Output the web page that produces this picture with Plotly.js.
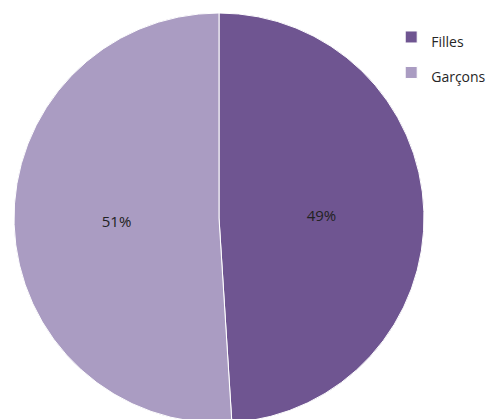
<!DOCTYPE html>
<html>
<head>
<meta charset="utf-8">
<script src="https://cdn.plot.ly/plotly-3.0.1.min.js"></script>
<style>
html, body { margin: 0; padding: 0; overflow: hidden; background: #ffffff; }
#chart { width: 504px; height: 423px; }
</style>
</head>
<body>
<div id="chart"></div>
<script>
// Data
var categories = ["Filles", "Garçons"];
var values = [49, 51];
var sliceColors = ["#6f5591", "#aa9cc2"];

// legend labels use a smaller inline size so that the legend rows keep the wide spacing of the reference
var legendLabels = categories.map(function (c) {
  return '<span style="font-size:14px">' + c + '</span>';
});

var trace = {
  type: "pie",
  labels: legendLabels,
  values: values,
  sort: false,
  direction: "clockwise",
  rotation: 0,
  marker: { colors: sliceColors, line: { color: "#ffffff", width: 1 } },
  textinfo: "percent",
  textposition: "inside",
  insidetextorientation: "horizontal",
  textfont: { family: "Open Sans, sans-serif", size: 15, color: "#222222" },
  hoverinfo: "label+percent"
};

var layout = {
  width: 504,
  height: 423,
  margin: { l: 14, r: 80, t: 13, b: 0 },
  paper_bgcolor: "#ffffff",
  showlegend: true,
  legend: {
    x: 0.92, xanchor: "left",
    y: 0.997, yanchor: "top",
    font: { family: "Open Sans, sans-serif", size: 25, color: "#262626" },
    bgcolor: "rgba(0,0,0,0)"
  }
};

Plotly.newPlot("chart", [trace], layout, { displayModeBar: false, staticPlot: true });
</script>
</body>
</html>
